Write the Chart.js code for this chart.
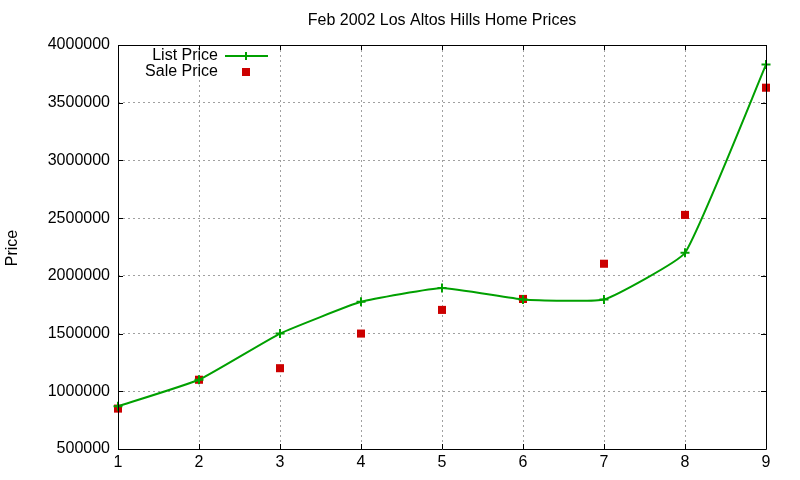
<!DOCTYPE html>
<html>
<head>
<meta charset="utf-8">
<script src="https://cdn.jsdelivr.net/npm/chart.js@4"></script>
<style>
  html, body { margin: 0; padding: 0; background: #fff; }
  #wrap { width: 800px; height: 480px; }
</style>
</head>
<body>
<div id="wrap"><canvas id="chart" width="800" height="480"></canvas></div>
<script>
// datos
const houses = [1, 2, 3, 4, 5, 6, 7, 8, 9];
const listPrice = [870000, 1100000, 1500000, 1775000, 1895000, 1795000, 1795000, 2200000, 3830000];
const salePrice = [850000, 1100000, 1200000, 1500000, 1705000, 1800000, 2105000, 2528000, 3630000];
const yTicks = [500000, 1000000, 1500000, 2000000, 2500000, 3000000, 3500000, 4000000];

const FONT = "'Liberation Sans', Arial, sans-serif";
const GREEN = "#00a000";
const RED = "#cc0000";

// marco, marcas interiores, titulo y leyenda al estilo gnuplot
const gnuplotFrame = {
  id: "gnuplotFrame",
  afterDraw(chart) {
    const ctx = chart.ctx;
    const a = chart.chartArea;
    const xs = chart.scales.x, ys = chart.scales.y;
    ctx.save();
    ctx.strokeStyle = "#000";
    ctx.lineWidth = 1;
    ctx.beginPath();
    ctx.rect(Math.round(a.left) + 0.5, Math.round(a.top) + 0.5,
             Math.round(a.right - a.left), Math.round(a.bottom - a.top));
    // marcas de los ejes hacia dentro
    yTicks.forEach(v => {
      const y = Math.round(ys.getPixelForValue(v)) + 0.5;
      ctx.moveTo(a.left, y); ctx.lineTo(a.left + 5, y);
      ctx.moveTo(a.right, y); ctx.lineTo(a.right - 5, y);
    });
    houses.forEach(v => {
      const x = Math.round(xs.getPixelForValue(v)) + 0.5;
      ctx.moveTo(x, a.bottom); ctx.lineTo(x, a.bottom - 5);
      ctx.moveTo(x, a.top); ctx.lineTo(x, a.top + 5);
    });
    ctx.stroke();

    // titulo
    ctx.fillStyle = "#000";
    ctx.font = "16px " + FONT;
    ctx.textAlign = "center";
    ctx.textBaseline = "middle";
    ctx.fillText("Feb 2002 Los Altos Hills Home Prices", (a.left + a.right) / 2, 21);

    // etiqueta del eje y
    ctx.save();
    ctx.translate(13, 248);
    ctx.rotate(-Math.PI / 2);
    ctx.font = "16px " + FONT;
    ctx.fillText("Price", 0, 0);
    ctx.restore();

    // leyenda
    ctx.font = "16px " + FONT;
    ctx.textAlign = "right";
    ctx.fillText("List Price", 218, 56);
    ctx.fillText("Sale Price", 218, 72);
    ctx.strokeStyle = GREEN;
    ctx.lineWidth = 2;
    ctx.beginPath();
    ctx.moveTo(225, 56); ctx.lineTo(268, 56);
    ctx.moveTo(246, 52); ctx.lineTo(246, 60);
    ctx.stroke();
    ctx.fillStyle = RED;
    ctx.fillRect(242, 68, 8, 8);
    ctx.restore();
  }
};

new Chart(document.getElementById("chart"), {
  type: "line",
  data: {
    datasets: [
      {
        label: "List Price",
        data: houses.map((h, i) => ({ x: h, y: listPrice[i] })),
        borderColor: GREEN,
        backgroundColor: GREEN,
        borderWidth: 2,
        tension: 0.12,
        pointStyle: "cross",
        pointRadius: 4.5,
        pointBorderWidth: 2,
        pointBorderColor: GREEN,
        fill: false,
        clip: false
      },
      {
        label: "Sale Price",
        data: houses.map((h, i) => ({ x: h, y: salePrice[i] })),
        showLine: false,
        pointStyle: "rect",
        pointRadius: 5.7,
        pointBorderWidth: 0,
        backgroundColor: RED,
        borderColor: RED,
        clip: false
      }
    ]
  },
  options: {
    responsive: false,
    animation: false,
    devicePixelRatio: 1,
    layout: { padding: { top: 45, right: 34, bottom: 0, left: 0 } },
    plugins: {
      legend: { display: false },
      tooltip: { enabled: false },
      title: { display: false }
    },
    scales: {
      x: {
        type: "linear",
        min: 1,
        max: 9,
        afterFit(scale) { scale.height = 31; },
        afterBuildTicks(scale) { scale.ticks = houses.map(v => ({ value: v })); },
        ticks: { color: "#000", font: { family: FONT, size: 16 }, padding: 4, maxRotation: 0 },
        grid: { color: "#a0a0a0", drawTicks: false, lineWidth: 1 },
        border: { display: false, dash: [2, 3] }
      },
      y: {
        min: 500000,
        max: 4000000,
        afterFit(scale) { scale.width = 118; },
        afterBuildTicks(scale) { scale.ticks = yTicks.map(v => ({ value: v })); },
        ticks: { color: "#000", font: { family: FONT, size: 16 }, padding: 8, callback: v => String(v) },
        grid: { color: "#a0a0a0", drawTicks: false, lineWidth: 1 },
        border: { display: false, dash: [2, 3] }
      }
    }
  },
  plugins: [gnuplotFrame]
});
</script>
</body>
</html>
